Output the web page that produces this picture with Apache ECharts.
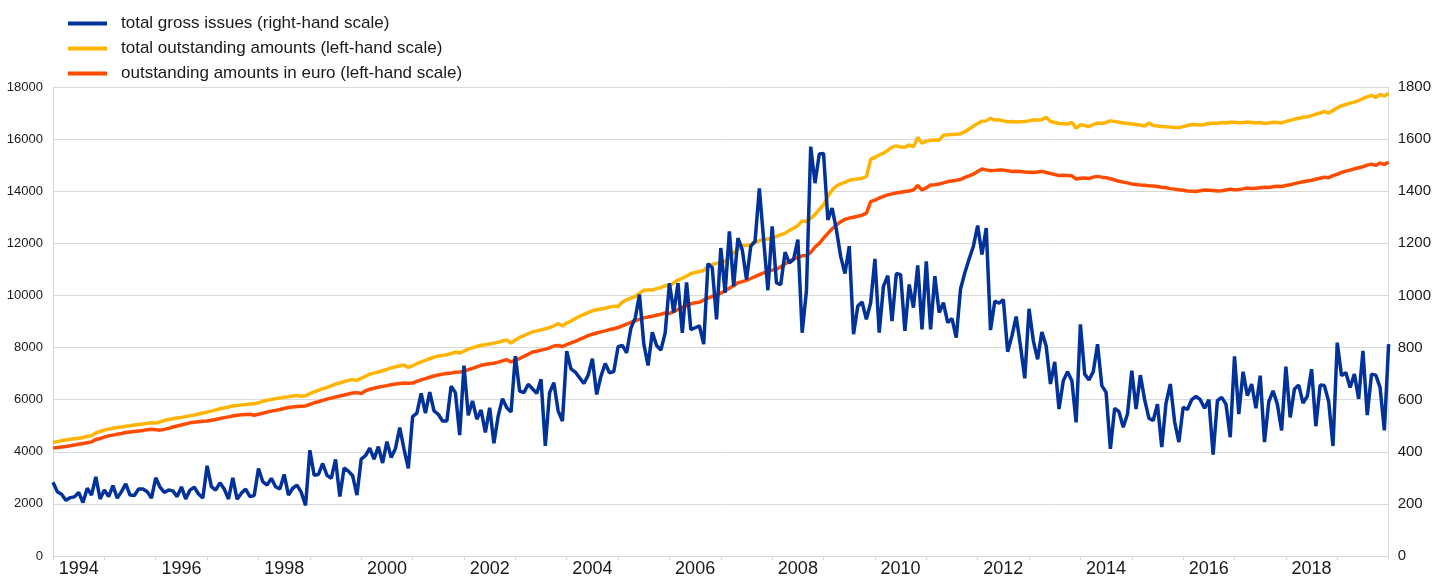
<!DOCTYPE html>
<html>
<head>
<meta charset="utf-8">
<title>gross issues and outstanding amounts</title>
<script src="https://cdn.jsdelivr.net/npm/echarts@6/dist/echarts.min.js"></script>
<style>
    html, body { margin: 0; padding: 0; background: #fff; }
    #contain { width: 1434px; height: 578px; }
</style>
</head>
<body>
<div id="contain"></div>
<script>
// monthly, 1994-01 .. 2020-01
var firstYear = 1994;
var yearLabels = ['1994', '1996', '1998', '2000', '2002', '2004', '2006', '2008', '2010', '2012', '2014', '2016', '2018'];

// total gross issues (right-hand scale)
var grossIssues = [
    283, 247, 237, 214, 224, 227, 244, 205, 260, 234, 304, 219,
    253, 228, 270, 222, 247, 277, 234, 232, 257, 257, 247, 222,
    300, 264, 244, 253, 250, 228, 265, 219, 253, 264, 238, 223,
    346, 266, 253, 281, 257, 219, 300, 218, 241, 257, 228, 232,
    336, 285, 272, 298, 266, 257, 313, 234, 260, 272, 244, 194,
    406, 310, 313, 355, 310, 298, 371, 228, 338, 326, 308, 234,
    372, 385, 414, 372, 420, 357, 439, 378, 413, 493, 410, 336,
    535, 548, 624, 548, 629, 557, 544, 518, 518, 652, 627, 464,
    731, 540, 595, 525, 560, 474, 569, 433, 538, 604, 569, 553,
    767, 633, 627, 659, 642, 624, 678, 423, 627, 665, 557, 518,
    786, 718, 706, 684, 662, 693, 757, 620, 690, 739, 703, 708,
    803, 808, 780, 875, 913, 1003, 815, 731, 859, 808, 790, 856,
    1047, 935, 1047, 856, 1050, 869, 876, 883, 813, 1122, 1106, 908,
    1182, 1010, 1246, 1036, 1220, 1176, 1061, 1189, 1208, 1411, 1214, 1020,
    1265, 1048, 1042, 1166, 1125, 1138, 1214, 857, 1017, 1571, 1431, 1543,
    1545, 1290, 1335, 1252, 1150, 1084, 1189, 851, 959, 975, 908, 972,
    1140, 857, 1036, 1076, 902, 1084, 1080, 864, 1042, 953, 1115, 870,
    1131, 870, 1074, 934, 972, 896, 911, 838, 1025, 1087, 1140, 1189,
    1268, 1157, 1259, 867, 978, 970, 984, 784, 845, 919, 806, 682,
    949, 826, 755, 860, 806, 660, 745, 564, 673, 707, 673, 513,
    889, 698, 676, 707, 813, 654, 628, 411, 567, 554, 494, 545,
    711, 564, 694, 600, 529, 520, 583, 418, 587, 660, 516, 437,
    571, 562, 600, 613, 600, 567, 600, 389, 596, 609, 583, 456,
    766, 545, 707, 615, 660, 567, 692, 437, 592, 634, 583, 482,
    727, 532, 641, 656, 587, 613, 717, 498, 656, 654, 592, 422,
    819, 692, 704, 647, 698, 603, 787, 541, 698, 694, 647, 482,
    813
];

// total outstanding amounts (left-hand scale)
var totalOutstanding = [
    4360, 4390, 4420, 4450, 4480, 4500, 4520, 4550, 4590, 4620, 4720, 4780,
    4830, 4870, 4900, 4930, 4950, 4980, 5000, 5030, 5050, 5070, 5090, 5110,
    5100, 5150, 5200, 5240, 5270, 5300, 5320, 5350, 5380, 5410, 5450, 5490,
    5520, 5560, 5610, 5650, 5680, 5720, 5760, 5780, 5800, 5810, 5830, 5840,
    5880, 5940, 5980, 6010, 6040, 6060, 6090, 6110, 6140, 6160, 6130, 6150,
    6230, 6300, 6360, 6420, 6470, 6530, 6600, 6640, 6690, 6740, 6770, 6740,
    6820, 6900, 6980, 7020, 7060, 7110, 7160, 7220, 7260, 7290, 7330, 7240,
    7300, 7380, 7450, 7510, 7570, 7630, 7680, 7700, 7720, 7770, 7830, 7790,
    7860, 7940, 7990, 8040, 8090, 8110, 8140, 8170, 8200, 8250, 8290, 8170,
    8290, 8390, 8460, 8530, 8600, 8640, 8680, 8720, 8770, 8830, 8920, 8830,
    8940, 9020, 9110, 9200, 9270, 9340, 9410, 9450, 9480, 9510, 9550, 9590,
    9570, 9750, 9830, 9900, 9960, 10080, 10200, 10210, 10210, 10260, 10300, 10380,
    10360, 10480, 10590, 10660, 10740, 10840, 10880, 10920, 10960, 11120, 11180, 11230,
    11260, 11320, 11480, 11640, 11780, 11910, 11930, 11950, 12020, 12110, 12140, 12170,
    12200, 12270, 12330, 12380, 12500, 12580, 12680, 12860, 12840, 12960, 13100, 13300,
    13480, 13800, 14050, 14200, 14280, 14340, 14420, 14450, 14470, 14500, 14560, 15220,
    15300, 15390, 15460, 15570, 15690, 15740, 15700, 15690, 15770, 15710, 16060, 15840,
    15920, 15960, 15970, 15960, 16150, 16170, 16180, 16190, 16210, 16280, 16390, 16500,
    16600, 16690, 16700, 16800, 16730, 16740, 16700, 16670, 16680, 16660, 16670, 16680,
    16700, 16740, 16720, 16740, 16840, 16680, 16640, 16600, 16590, 16580, 16640, 16420,
    16550, 16520, 16480, 16560, 16620, 16600, 16640, 16700, 16680, 16650, 16620, 16600,
    16580, 16560, 16540, 16500, 16620, 16520, 16500, 16480, 16470, 16460, 16450, 16440,
    16480, 16520, 16560, 16550, 16540, 16560, 16600, 16620, 16600, 16640, 16620, 16650,
    16650, 16630, 16640, 16660, 16640, 16620, 16640, 16600, 16620, 16650, 16640, 16620,
    16680, 16720, 16760, 16800, 16840, 16860, 16900, 16960, 17000, 17060, 17000, 17100,
    17200, 17280, 17330, 17380, 17420, 17480, 17560, 17620, 17680, 17600, 17720, 17650,
    17760
];

// outstanding amounts in euro (left-hand scale)
var euroOutstanding = [
    4140, 4160, 4180, 4200, 4230, 4260, 4290, 4320, 4350, 4380, 4470, 4510,
    4560, 4610, 4640, 4670, 4700, 4740, 4760, 4780, 4800, 4820, 4850, 4860,
    4850, 4830, 4860, 4900, 4950, 4990, 5030, 5070, 5110, 5130, 5150, 5170,
    5180, 5210, 5240, 5280, 5310, 5340, 5370, 5400, 5420, 5430, 5440, 5400,
    5440, 5480, 5520, 5560, 5590, 5620, 5660, 5700, 5720, 5740, 5750, 5760,
    5820, 5880, 5920, 5970, 6020, 6060, 6100, 6140, 6180, 6220, 6260, 6270,
    6240, 6340, 6400, 6440, 6480, 6510, 6540, 6570, 6600, 6620, 6640, 6630,
    6640, 6700, 6760, 6810, 6860, 6910, 6950, 6980, 7000, 7020, 7050, 7060,
    7090, 7150, 7200, 7260, 7320, 7350, 7380, 7400, 7440, 7490, 7530, 7450,
    7520, 7580, 7660, 7740, 7830, 7860, 7900, 7940, 7990, 8060, 8080, 8040,
    8110, 8180, 8240, 8310, 8380, 8460, 8510, 8560, 8600, 8640, 8690, 8720,
    8770, 8830, 8900, 8970, 9030, 9080, 9140, 9170, 9200, 9240, 9280, 9330,
    9310, 9380, 9460, 9540, 9610, 9680, 9720, 9740, 9820, 9900, 9960, 10020,
    10090, 10180, 10280, 10370, 10490, 10530, 10580, 10650, 10720, 10800, 10870, 10930,
    10970, 11010, 11100, 11210, 11300, 11400, 11460, 11520, 11530, 11650, 11860, 12000,
    12200, 12380, 12560, 12700, 12830, 12920, 12970, 13000, 13040, 13080, 13160, 13600,
    13660, 13740, 13800, 13860, 13900, 13930, 13960, 13990, 14010, 14050, 14220, 14050,
    14130, 14240, 14250, 14280, 14320, 14370, 14390, 14420, 14450, 14530, 14590, 14660,
    14760, 14850, 14820, 14790, 14800, 14810, 14810, 14790, 14760, 14770, 14760, 14740,
    14730, 14720, 14740, 14760, 14720, 14680, 14640, 14600, 14610, 14600, 14590, 14470,
    14500, 14510, 14490, 14540, 14570, 14540, 14520, 14480, 14430, 14380, 14350, 14320,
    14280, 14260, 14240, 14230, 14210, 14200, 14180, 14150, 14130, 14100, 14080, 14060,
    14040, 14010, 14000, 13990, 14020, 14050, 14040, 14030, 14010, 14020, 14050, 14080,
    14060, 14070, 14090, 14120, 14100, 14110, 14130, 14150, 14140, 14170, 14190, 14180,
    14220, 14250, 14290, 14330, 14360, 14390, 14420, 14460, 14500, 14540, 14520, 14600,
    14650, 14720, 14770, 14810, 14860, 14900, 14940, 15000, 15040, 14990, 15080, 15030,
    15110
];

var months = [];
for (var i = 0; i < grossIssues.length; i++) {
    var y = firstYear + Math.floor(i / 12);
    var m = i % 12 + 1;
    months.push(y + '-' + (m < 10 ? '0' + m : m));
}

var gridColor = '#d9d9d9';
var textColor = '#1a1a1a';

// plain numbers, no thousands separator
function plain(value) {
    return String(value);
}

var option = {
    animation: false,
    textStyle: {
        fontFamily: 'Liberation Sans, Arial, sans-serif'
    },
    legend: {
        orient: 'vertical',
        left: 63,
        top: 10,
        itemWidth: 39,
        itemHeight: 4,
        itemGap: 8,
        icon: 'rect',
        textStyle: {
            fontSize: 17,
            color: textColor,
            padding: [0, 0, 0, 9]
        },
        data: ['total gross issues (right-hand scale)', 'total outstanding amounts (left-hand scale)', 'outstanding amounts in euro (left-hand scale)']
    },
    grid: {
        left: 53,
        right: 44,
        top: 87,
        bottom: 22
    },
    xAxis: [{
        type: 'category',
        data: months,
        boundaryGap: false,
        axisLine: {
            lineStyle: { color: gridColor }
        },
        axisTick: {
            length: 4,
            interval: function (index) {
                return index % 12 === 0;
            },
            lineStyle: { color: gridColor }
        },
        axisLabel: {
            fontSize: 18,
            color: textColor,
            margin: 4,
            interval: function (index, value) {
                return index % 12 === 6 && yearLabels.indexOf(value.substring(0, 4)) > -1;
            },
            formatter: function (value) {
                return value.substring(0, 4);
            }
        },
        splitLine: { show: false }
    }],
    yAxis: [{
        type: 'value',
        min: 0,
        max: 18000,
        interval: 2000,
        axisLine: {
            show: true,
            lineStyle: { color: gridColor }
        },
        axisTick: { show: false },
        axisLabel: {
            fontSize: 13,
            color: textColor,
            margin: 10,
            formatter: plain
        },
        splitLine: {
            lineStyle: { color: gridColor }
        }
    }, {
        type: 'value',
        position: 'right',
        min: 0,
        max: 1800,
        interval: 200,
        axisLine: {
            show: true,
            lineStyle: { color: gridColor }
        },
        axisTick: { show: false },
        axisLabel: {
            fontSize: 15,
            color: textColor,
            margin: 9,
            formatter: plain
        },
        splitLine: { show: false }
    }],
    series: [{
        name: 'total outstanding amounts (left-hand scale)',
        type: 'line',
        yAxisIndex: 0,
        data: totalOutstanding,
        showSymbol: false,
        color: '#ffb400',
        lineStyle: { width: 3.5, color: '#ffb400' },
        z: 2
    }, {
        name: 'outstanding amounts in euro (left-hand scale)',
        type: 'line',
        yAxisIndex: 0,
        data: euroOutstanding,
        showSymbol: false,
        color: '#ff4b00',
        lineStyle: { width: 3.5, color: '#ff4b00' },
        z: 2
    }, {
        name: 'total gross issues (right-hand scale)',
        type: 'line',
        yAxisIndex: 1,
        data: grossIssues,
        showSymbol: false,
        color: '#003299',
        lineStyle: { width: 3.5, color: '#003299' },
        z: 3
    }]
};

var myChart = echarts.init(document.getElementById('contain'));
myChart.setOption(option);
</script>
</body>
</html>
